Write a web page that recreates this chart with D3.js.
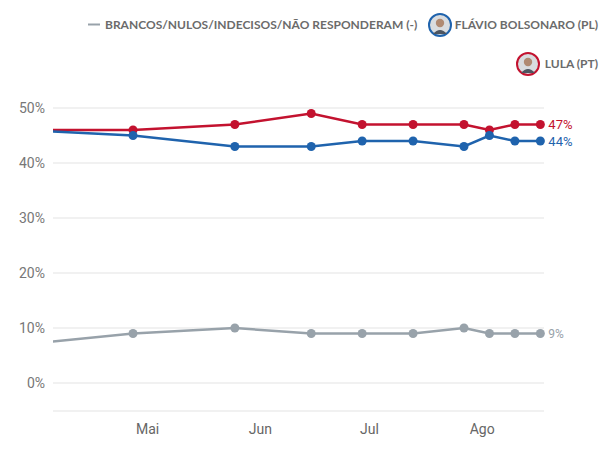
<!DOCTYPE html>
<html>
<head>
<meta charset="utf-8">
<script src="https://cdn.jsdelivr.net/npm/d3@7"></script>
<style>
  body { margin: 0; background: #fff; }
  svg { display: block; }
</style>
</head>
<body>
<svg id="chart" width="613" height="449"></svg>
<script>
// poll dates (first one sits left of the visible window)
const dates = ['2026-03-28', '2026-04-27', '2026-05-25', '2026-06-15', '2026-06-29',
               '2026-07-13', '2026-07-27', '2026-08-03', '2026-08-10', '2026-08-17'];
const lula     = [46, 46, 47, 49, 47, 47, 47, 46, 47, 47];
const flavio   = [46, 45, 43, 43, 44, 44, 43, 45, 44, 44];
const brancos  = [7, 9, 10, 9, 9, 9, 10, 9, 9, 9];
const yTicks = [0, 10, 20, 30, 40, 50];
const monthTicks = ['2026-05-01', '2026-06-01', '2026-07-01', '2026-08-01'];
const monthNames = ['Mai', 'Jun', 'Jul', 'Ago'];

const parse = d3.timeParse('%Y-%m-%d');
const svg = d3.select('#chart');

const x = d3.scaleTime()
    .domain([parse('2026-04-05'), parse('2026-08-18')])
    .range([53, 544]);
const y = d3.scaleLinear()
    .domain([0, 50])
    .range([383, 108]);

svg.append('defs').append('clipPath').attr('id', 'plot')
  .append('rect').attr('x', 53).attr('y', 0).attr('width', 560).attr('height', 449);

// grid
svg.append('g').selectAll('line')
  .data(yTicks)
  .join('line')
    .attr('x1', 53).attr('x2', 544)
    .attr('y1', d => y(d)).attr('y2', d => y(d))
    .attr('stroke', '#e3e3e3').attr('stroke-width', 1);

svg.append('line')
    .attr('x1', 53).attr('x2', 544)
    .attr('y1', 411).attr('y2', 411)
    .attr('stroke', '#e3e3e3');

svg.append('g').selectAll('text')
  .data(yTicks)
  .join('text')
    .attr('x', 45).attr('y', d => y(d) + 5)
    .attr('text-anchor', 'end')
    .style('font', '14px Roboto, sans-serif')
    .attr('fill', '#777')
    .text(d => d + '%');

svg.append('g').selectAll('text')
  .data(monthTicks)
  .join('text')
    .attr('x', d => x(parse(d)))
    .attr('y', 434)
    .attr('text-anchor', 'middle')
    .style('font', '14px Roboto, sans-serif')
    .attr('fill', '#666')
    .text((d, i) => monthNames[i]);

const series = [
  { values: brancos, color: '#98a2aa', labelSize: 12 },
  { values: lula,    color: '#c3122f', labelSize: 13 },
  { values: flavio,  color: '#1f63ad', labelSize: 13 }
];

const line = d3.line()
    .x(d => x(d.date))
    .y(d => y(d.v));

const plot = svg.append('g').attr('clip-path', 'url(#plot)');

series.forEach(s => {
  const pts = dates.map((d, i) => ({ date: parse(d), v: s.values[i] }));
  plot.append('path')
      .datum(pts)
      .attr('d', line)
      .attr('fill', 'none')
      .attr('stroke', s.color)
      .attr('stroke-width', 2.5);
  plot.append('g').selectAll('circle')
    .data(pts.slice(1))
    .join('circle')
      .attr('cx', d => x(d.date))
      .attr('cy', d => y(d.v))
      .attr('r', 4.5)
      .attr('fill', s.color);
  const last = pts[pts.length - 1];
  svg.append('text')
      .attr('x', x(last.date) + 8)
      .attr('y', y(last.v) + 4.5)
      .style('font', s.labelSize + 'px Roboto, sans-serif')
      .attr('fill', s.color)
      .text(last.v + '%');
});

// legend
const legendFont = 'bold 12px Lato, sans-serif';
svg.append('line')
    .attr('x1', 88).attr('x2', 100).attr('y1', 24.5).attr('y2', 24.5)
    .attr('stroke', '#98a2aa').attr('stroke-width', 2);
svg.append('text')
    .attr('x', 105).attr('y', 29)
    .style('font', legendFont).attr('fill', '#6b6b6b')
    .text('BRANCOS/NULOS/INDECISOS/NÃO RESPONDERAM (-)');

function avatar(cx, cy, color) {
  const g = svg.append('g');
  g.append('circle').attr('cx', cx).attr('cy', cy).attr('r', 11)
    .attr('fill', '#d9dcdf').attr('stroke', color).attr('stroke-width', 2);
  g.append('circle').attr('cx', cx).attr('cy', cy - 2).attr('r', 4.2).attr('fill', '#b08a72');
  g.append('path')
    .attr('d', `M${cx - 7},${cy + 9} Q${cx},${cy + 1} ${cx + 7},${cy + 9} Z`)
    .attr('fill', '#4d5560');
}
avatar(440, 25, '#1f63ad');
svg.append('text')
    .attr('x', 598).attr('y', 29).attr('text-anchor', 'end')
    .style('font', legendFont).attr('fill', '#6b6b6b')
    .text('FLÁVIO BOLSONARO (PL)');

avatar(528, 64, '#c3122f');
svg.append('text')
    .attr('x', 598).attr('y', 68).attr('text-anchor', 'end')
    .style('font', legendFont).attr('fill', '#6b6b6b')
    .text('LULA (PT)');
</script>
</body>
</html>
